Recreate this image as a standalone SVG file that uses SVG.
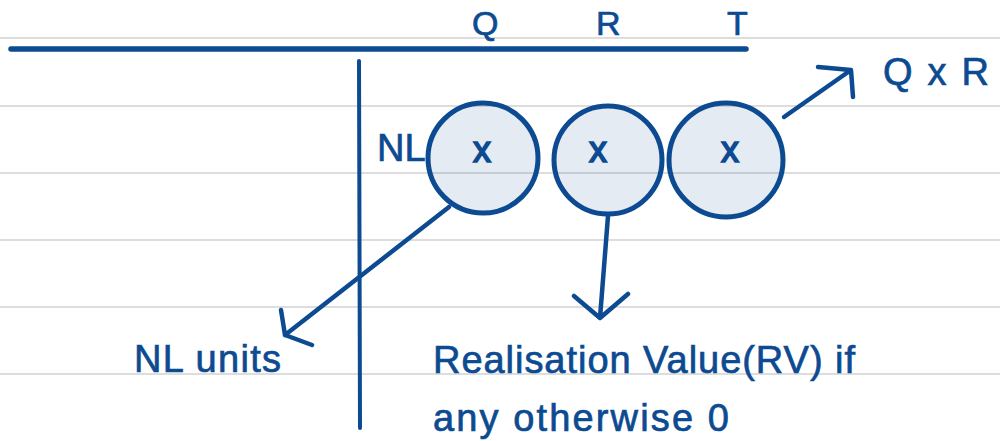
<svg xmlns="http://www.w3.org/2000/svg" width="1000" height="441" viewBox="0 0 1000 441">
<style>
.rule{stroke:#d2d2d2;stroke-width:1.5}
.ink{stroke:#0c4a91;fill:none;stroke-linecap:round;stroke-linejoin:round}
.bubble{fill:#0c4a91;fill-opacity:0.11;stroke:#0c4a91;stroke-width:5}
text{font-family:"Liberation Sans",Arial,sans-serif;fill:#0c4a91;stroke:#0c4a91;stroke-width:0.7}
.lbl{font-size:38px}
.hdr{font-size:34px}
.mark{font-size:36px;text-anchor:middle;stroke-width:1.6}
</style>
<rect width="1000" height="441" fill="#ffffff"/>
<g id="rules">
<line class="rule" x1="0" y1="38" x2="1000" y2="38"/>
<line class="rule" x1="0" y1="106" x2="1000" y2="106"/>
<line class="rule" x1="0" y1="173" x2="1000" y2="173"/>
<line class="rule" x1="0" y1="240" x2="1000" y2="240"/>
<line class="rule" x1="0" y1="307" x2="1000" y2="307"/>
<line class="rule" x1="0" y1="374" x2="1000" y2="374"/>
</g>
<g id="axes">
<line class="ink" x1="11" y1="49" x2="746" y2="49" stroke-width="5.5"/>
<line class="ink" x1="359" y1="61" x2="360" y2="428" stroke-width="4"/>
</g>
<g id="headers">
<text class="hdr" x="472" y="35">Q</text>
<text class="hdr" x="596" y="35">R</text>
<text class="hdr" x="727" y="35">T</text>
</g>
<g id="node-nl-label"><text class="lbl" x="377" y="161">NL</text></g>
<g id="node-q"><circle class="bubble" cx="483" cy="158" r="55"/><text class="mark" x="482" y="162">x</text></g>
<g id="node-r"><circle class="bubble" cx="608" cy="160" r="54"/><text class="mark" x="598" y="162">x</text></g>
<g id="node-t"><circle class="bubble" cx="726" cy="160" r="57"/><text class="mark" x="730" y="162">x</text></g>
<g id="connectors">
<path class="ink" stroke-width="4.5" d="M449 207 L285 335 M281 310 L285 335 L312 345"/>
<path class="ink" stroke-width="4.5" d="M608 216 L600 318 M574 296 L600 318 L628 294"/>
<path class="ink" stroke-width="4.5" d="M784 117 L851 70 M818 67 L851 70 L853 97"/>
</g>
<g id="node-qxr"><text class="lbl" x="883" y="85" textLength="106" lengthAdjust="spacing">Q x R</text></g>
<g id="node-nl-units"><text class="lbl" x="134" y="372" textLength="147" lengthAdjust="spacing">NL units</text></g>
<g id="node-rv"><text class="lbl" x="433" y="373" textLength="422" lengthAdjust="spacing">Realisation Value(RV) if</text><text class="lbl" x="433" y="431" textLength="296" lengthAdjust="spacing">any otherwise 0</text></g>
</svg>
